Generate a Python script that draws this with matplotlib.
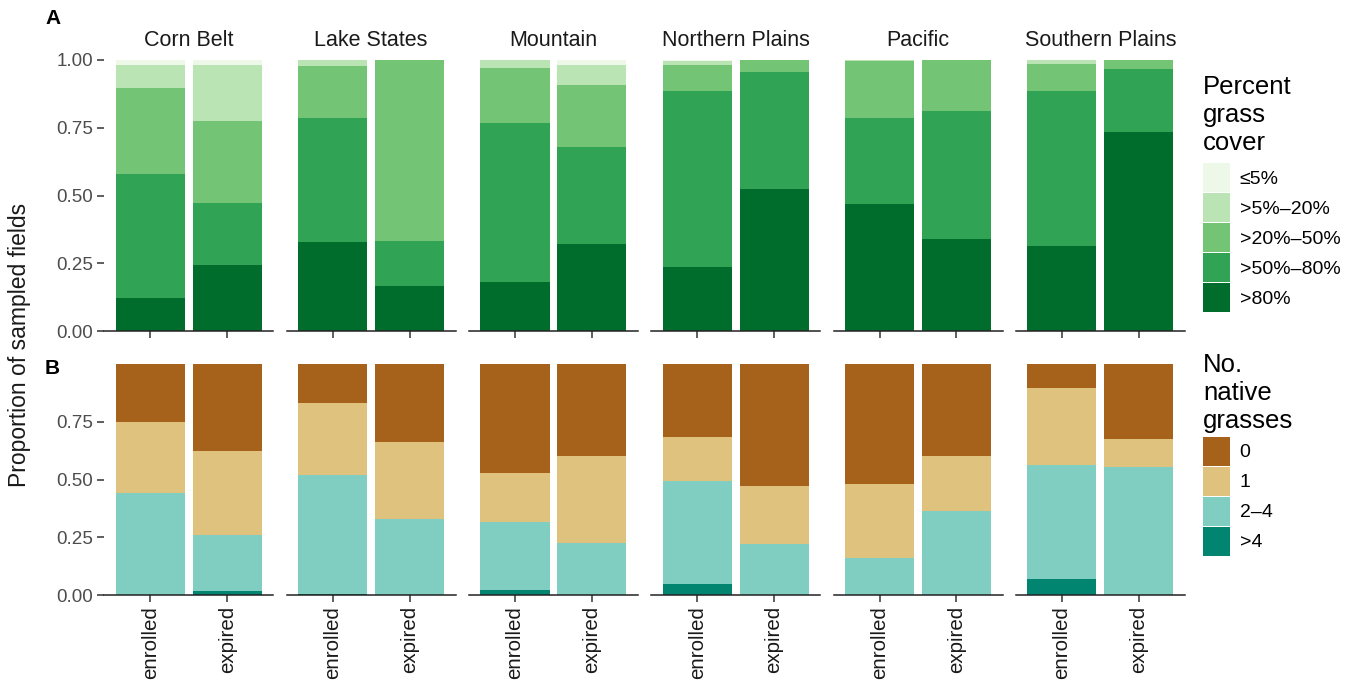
import matplotlib
matplotlib.use("Agg")
import matplotlib.pyplot as plt
from matplotlib.patches import Patch
import numpy as np

plt.rcParams["font.family"] = ["Liberation Sans", "DejaVu Sans"]

regions = ["Corn Belt", "Lake States", "Mountain", "Northern Plains", "Pacific", "Southern Plains"]
status = ["enrolled", "expired"]

# Panel A: proportion of fields per grass-cover class, (enrolled, expired) per region
cover_labels = ["\u22645%", ">5%\u201320%", ">20%\u201350%", ">50%\u201380%", ">80%"]
cover_le5 = [(0.017, 0.017), (0.000, 0.000), (0.000, 0.017), (0.004, 0.000), (0.000, 0.000), (0.000, 0.000)]
cover_5_20 = [(0.085, 0.207), (0.022, 0.000), (0.028, 0.075), (0.013, 0.000), (0.004, 0.000), (0.014, 0.000)]
cover_20_50 = [(0.317, 0.303), (0.191, 0.667), (0.206, 0.228), (0.096, 0.044), (0.210, 0.190), (0.099, 0.033)]
cover_50_80 = [(0.459, 0.228), (0.457, 0.167), (0.585, 0.359), (0.649, 0.431), (0.316, 0.471), (0.573, 0.233)]
cover_gt80 = [(0.122, 0.245), (0.330, 0.166), (0.181, 0.321), (0.238, 0.525), (0.470, 0.339), (0.314, 0.734)]
cover_colors = ["#edf8e9", "#bae4b3", "#74c476", "#31a354", "#006d2c"]

# Panel B: proportion of fields by number of native grasses
native_labels = ["0", "1", "2\u20134", ">4"]
native_0 = [(0.249, 0.378), (0.170, 0.336), (0.470, 0.397), (0.317, 0.526), (0.520, 0.397), (0.106, 0.323)]
native_1 = [(0.310, 0.361), (0.311, 0.334), (0.214, 0.378), (0.189, 0.254), (0.321, 0.238), (0.333, 0.125)]
native_2_4 = [(0.441, 0.245), (0.515, 0.330), (0.296, 0.225), (0.446, 0.220), (0.159, 0.365), (0.491, 0.552)]
native_gt4 = [(0.000, 0.016), (0.004, 0.000), (0.020, 0.000), (0.048, 0.000), (0.000, 0.000), (0.070, 0.000)]
native_colors = ["#a6611a", "#dfc27d", "#80cdc1", "#018571"]

W, H = 1354, 680
fig = plt.figure(figsize=(W / 100, H / 100), dpi=100)

def fig_rect(left, top, width, height):
    return [left / W, 1 - (top + height) / H, width / W, height / H]

TICK_COLOR = "#4d4d4d"
panel_left0, panel_step, panel_w = 104.3, 182.3, 169.0

def style_axes(ax, first, yticks, ylabels):
    ax.set_xlim(-0.6, 1.6)
    ax.set_ylim(0, 1)
    for side in ("top", "right", "left"):
        ax.spines[side].set_visible(False)
    ax.spines["bottom"].set_color("#222222")
    ax.spines["bottom"].set_linewidth(1.1)
    ax.tick_params(axis="both", length=5, width=1.1, color="#333333",
                   labelcolor=TICK_COLOR, labelsize=13.6, pad=3)
    if first:
        ax.set_yticks(yticks)
        ax.set_yticklabels(ylabels)
    else:
        ax.set_yticks([])

x = np.arange(len(status))

for i, region in enumerate(regions):
    left = panel_left0 + panel_step * i
    ax = fig.add_axes(fig_rect(left, 60, panel_w, 271))
    bottom = np.zeros(2)
    for vals, col in zip([cover_gt80, cover_50_80, cover_20_50, cover_5_20, cover_le5],
                         cover_colors[::-1]):
        v = np.array(vals[i])
        ax.bar(x, v, width=0.9, bottom=bottom, color=col, linewidth=0)
        bottom += v
    style_axes(ax, i == 0, [0, 0.25, 0.5, 0.75, 1.0], ["0.00", "0.25", "0.50", "0.75", "1.00"])
    ax.set_xticks(x)
    ax.set_xticklabels([])
    ax.text(0.5, 1 + 20 / 271, region, transform=ax.transAxes, ha="center", va="center",
            fontsize=15.5, color="#1a1a1a")

    axb = fig.add_axes(fig_rect(left, 364, panel_w, 231))
    bottom = np.zeros(2)
    for vals, col in zip([native_gt4, native_2_4, native_1, native_0], native_colors[::-1]):
        v = np.array(vals[i])
        axb.bar(x, v, width=0.9, bottom=bottom, color=col, linewidth=0)
        bottom += v
    style_axes(axb, i == 0, [0, 0.25, 0.5, 0.75], ["0.00", "0.25", "0.50", "0.75"])
    axb.set_xticks(x)
    axb.set_xticklabels(status, rotation=90, fontsize=14.8, color="#1a1a1a", va="top")

# panel tags and shared y label
fig.text(45 / W, 1 - 18 / H, "A", fontsize=15, fontweight="bold", ha="left", va="center")
fig.text(45 / W, 1 - 368 / H, "B", fontsize=15, fontweight="bold", ha="left", va="center")
fig.text(20 / W, 1 - 345 / H, "Proportion of sampled fields", rotation=90,
         fontsize=16.5, ha="center", va="center", color="#1a1a1a")

# legends: key boxes about 27 x 29 px
fs_lab = 14.0
key_pt_w = 27 * 72 / 100
key_pt_h = 29 * 72 / 100
handlelength = key_pt_w / fs_lab
# matplotlib subtracts a descent of 0.35*fs*(hh-0.7) from fs*hh
handleheight = (key_pt_h - 0.245 * fs_lab) / (0.65 * fs_lab)

def add_legend(colors, labels, title, top_px, sep):
    handles = [Patch(facecolor=c, edgecolor="none") for c in colors]
    leg = fig.legend(handles, labels, loc="upper left",
                     bbox_to_anchor=(1203 / W, 1 - top_px / H), frameon=False,
                     title=title, title_fontsize=18.5, fontsize=fs_lab,
                     handlelength=handlelength, handleheight=handleheight,
                     labelspacing=0.05, handletextpad=0.5, borderpad=0, borderaxespad=0,
                     alignment="left")
    leg._legend_box.sep = sep
    return leg

add_legend(cover_colors, cover_labels, "Percent\ngrass\ncover", 75, 6)
add_legend(native_colors, native_labels, "No.\nnative\ngrasses", 353, 3)

fig.savefig("out.png", dpi=100, facecolor="white")
